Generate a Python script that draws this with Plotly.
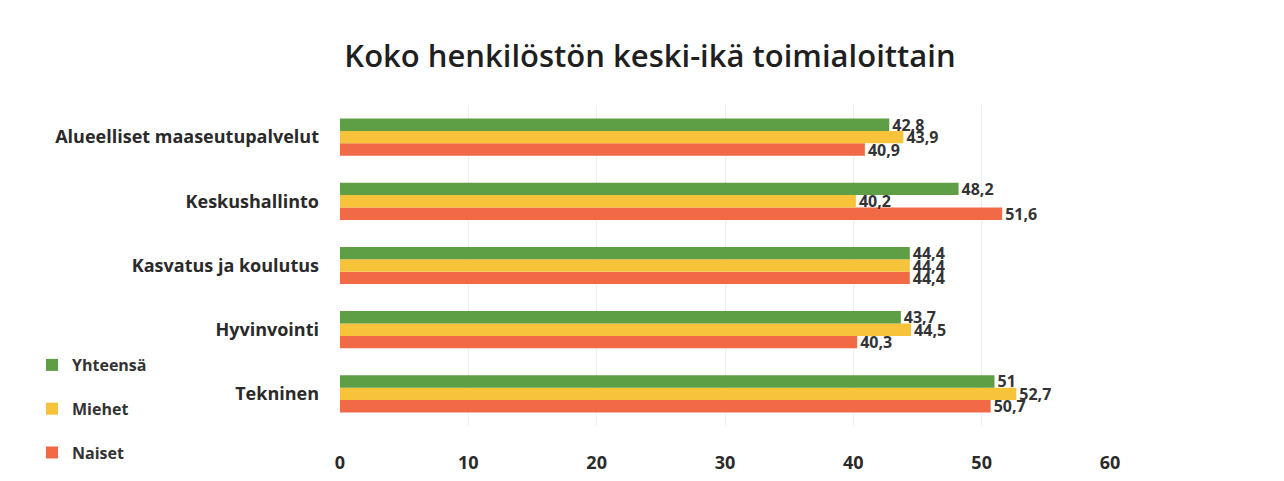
import plotly.graph_objects as go

categories = ["Alueelliset maaseutupalvelut", "Keskushallinto", "Kasvatus ja koulutus", "Hyvinvointi", "Tekninen"]
yhteensa = [42.8, 48.2, 44.4, 43.7, 51]
miehet = [43.9, 40.2, 44.4, 44.5, 52.7]
naiset = [40.9, 51.6, 44.4, 40.3, 50.7]
x_ticks = [0, 10, 20, 30, 40, 50, 60]

FONT = "Open Sans"
label_font = dict(family=FONT, size=16, color="#333333", weight="bold")

series = [
    ("Naiset", naiset, "#F26A45", 3),
    ("Miehet", miehet, "#F7C33A", 2),
    ("Yhteensä", yhteensa, "#5E9E44", 1),
]

fig = go.Figure()
for name, vals, col, rank in series:
    fig.add_trace(go.Bar(
        y=categories, x=vals, name=name, orientation="h",
        marker=dict(color=col, line=dict(width=0)),
        text=[f"{v:g}".replace(".", ",") for v in vals],
        textposition="outside", textfont=label_font, constraintext="none",
        cliponaxis=False, legendgroup=name, legendrank=rank,
    ))

fig.update_layout(
    width=1284, height=481,
    paper_bgcolor="white", plot_bgcolor="white",
    barmode="group", bargap=0.42, bargroupgap=0,
    margin=dict(l=332, r=182, t=97, b=63, autoexpand=False),
    title=dict(text="Koko henkilöstön keski-ikä toimialoittain", x=0.5, xanchor="center",
               y=0.9, yanchor="middle",
               font=dict(family=FONT, size=31, color="#1f1f1f", weight=600)),
    font=dict(family=FONT, size=17, color="#333333"),
    showlegend=True,
    legend=dict(x=-0.40, xanchor="left", y=0.243, yanchor="top",
                traceorder="grouped", tracegroupgap=20,
                font=dict(family=FONT, size=16, color="#333333", weight="bold"),
                itemwidth=30, bgcolor="rgba(0,0,0,0)"),
    separators=", ",
)
fig.update_xaxes(range=[0, 60], tickvals=x_ticks, showgrid=True, gridcolor="#f0f0f0",
                 zeroline=False, showline=False, ticks="", ticklabelstandoff=24,
                 tickfont=dict(family=FONT, size=18, color="#2a2a2a", weight="bold"))
fig.update_yaxes(categoryorder="array", categoryarray=categories[::-1],
                 showgrid=False, ticks="", ticklabelstandoff=20,
                 tickfont=dict(family=FONT, size=18, color="#2a2a2a", weight="bold"))

fig.write_html("out.html")
